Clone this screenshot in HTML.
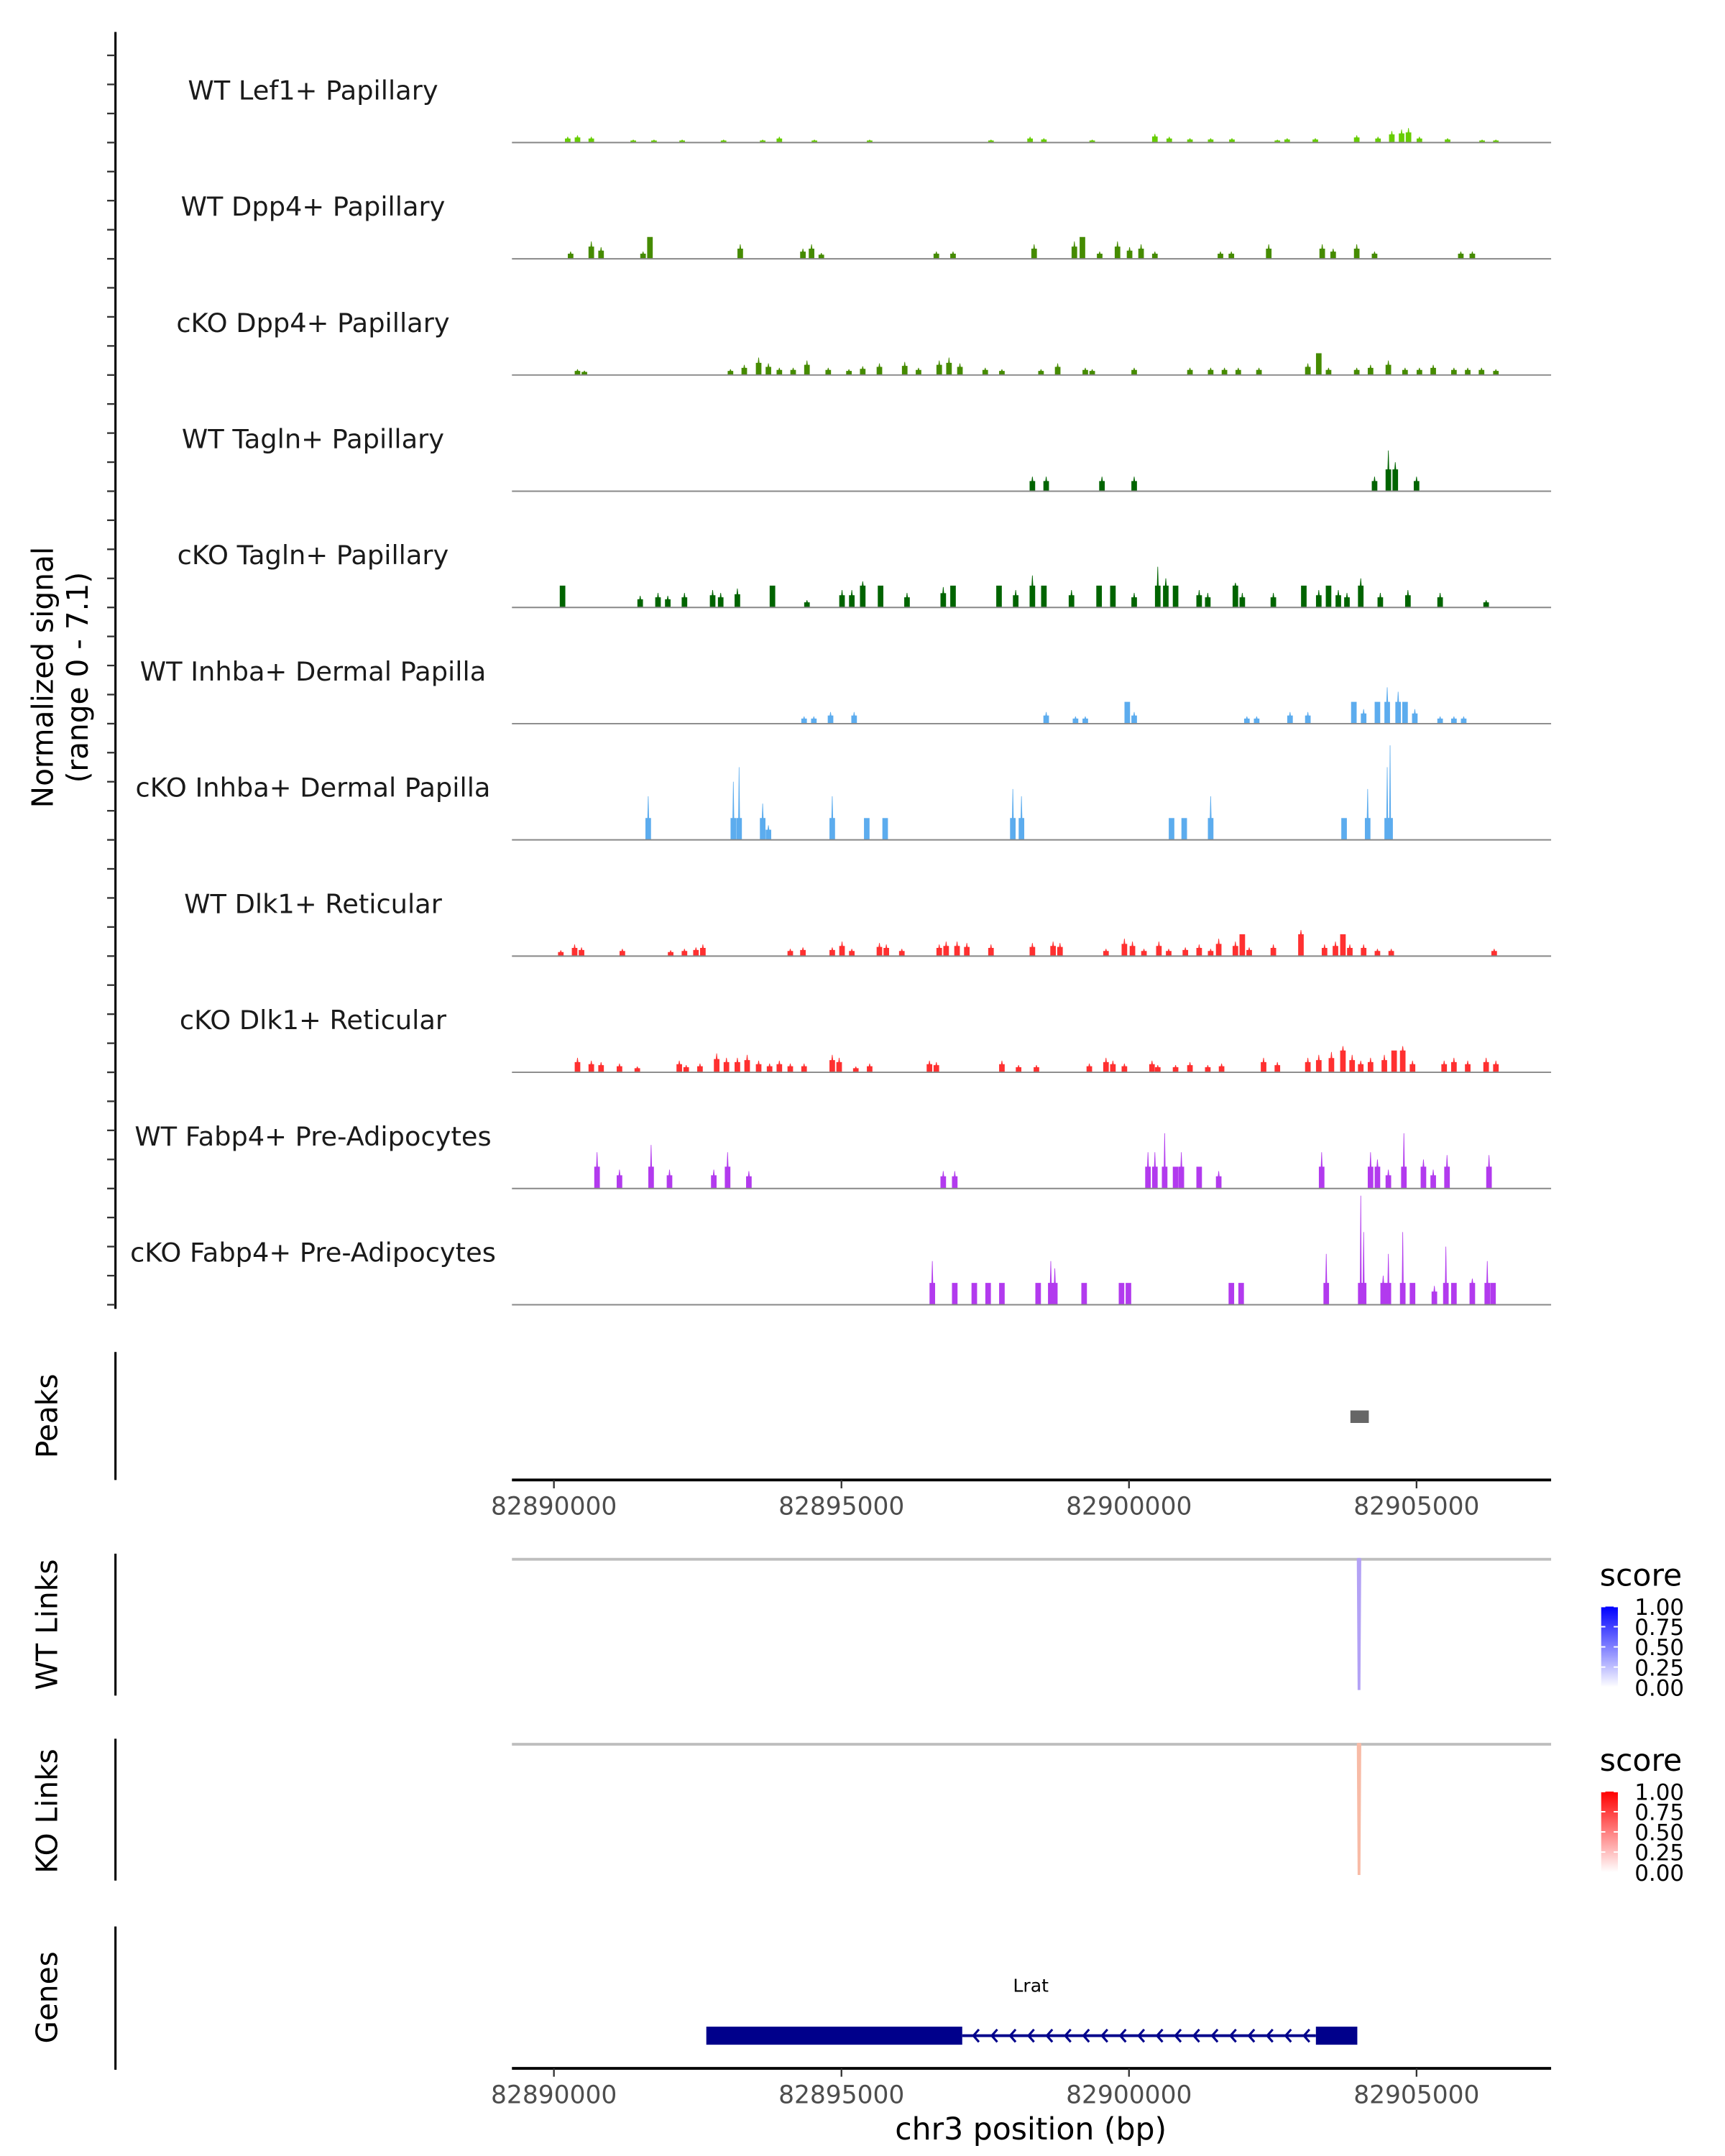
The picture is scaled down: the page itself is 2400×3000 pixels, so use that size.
<!DOCTYPE html>
<html><head><meta charset="utf-8"><style>
html,body{margin:0;padding:0;background:#fff}
svg{display:block}
text{font-family:"DejaVu Sans","Liberation Sans",sans-serif}
</style></head><body>
<svg id="chart" width="2400" height="3000" viewBox="0 0 1240 1550" preserveAspectRatio="none" xmlns="http://www.w3.org/2000/svg">
<g id="tracks"></g>
<g id="axes"></g>
</svg>
<script>
const regionStart = 82889270, regionEnd = 82907340;
const tickValues = [82890000, 82895000, 82900000, 82905000];
const trackNames = ["WT Lef1+ Papillary","WT Dpp4+ Papillary","cKO Dpp4+ Papillary","WT Tagln+ Papillary","cKO Tagln+ Papillary","WT Inhba+ Dermal Papilla","cKO Inhba+ Dermal Papilla","WT Dlk1+ Reticular","cKO Dlk1+ Reticular","WT Fabp4+ Pre-Adipocytes","cKO Fabp4+ Pre-Adipocytes"];
const trackColors = ["#66CD00","#458B00","#458B00","#006400","#006400","#5CACEE","#5CACEE","#FF3030","#FF3030","#B23AEE","#B23AEE"];
// peaks: [offset kb from 82,890,000, signal]
const t1Pos=[0.24,0.41,0.65,1.38,1.74,2.23,2.95,3.63,3.92,4.53,5.49,7.60,8.28,8.52,9.36,10.45,10.70,11.06,11.42,11.79,12.58,12.75,13.24,13.96,14.33,14.57,14.74,14.86,15.05,15.54,16.14,16.38];
const t1Val=[0.4,0.5,0.4,0.2,0.2,0.2,0.2,0.2,0.4,0.2,0.2,0.2,0.4,0.3,0.2,0.6,0.4,0.3,0.3,0.3,0.2,0.3,0.3,0.5,0.4,0.8,0.9,1.0,0.4,0.3,0.2,0.2];
const t2Pos=[0.29,0.65,0.82,1.55,1.67,3.24,4.33,4.48,4.65,6.65,6.94,8.35,9.05,9.19,9.49,9.80,10.01,10.21,10.45,11.59,11.78,12.43,13.36,13.55,13.96,14.27,15.77,15.97];
const t2Val=[0.5,1.2,0.8,0.5,1.5,1.0,0.7,1.0,0.4,0.5,0.5,1.0,1.2,1.5,0.5,1.2,0.8,1.0,0.5,0.5,0.5,1.0,1.0,0.7,1.0,0.5,0.5,0.5];
const t3Pos=[0.41,0.53,3.07,3.31,3.56,3.73,3.92,4.16,4.40,4.77,5.13,5.37,5.66,6.10,6.34,6.70,6.87,7.06,7.50,7.79,8.47,8.76,9.24,9.36,10.09,11.06,11.42,11.66,11.90,12.26,13.11,13.30,13.47,13.96,14.20,14.51,14.80,15.05,15.29,15.65,15.89,16.13,16.38];
const t3Val=[0.4,0.3,0.4,0.7,1.2,0.8,0.5,0.5,1.0,0.5,0.4,0.6,0.8,0.9,0.5,1.0,1.2,0.8,0.5,0.4,0.4,0.8,0.5,0.4,0.5,0.5,0.5,0.5,0.5,0.5,0.8,1.5,0.5,0.5,0.7,1.0,0.5,0.5,0.7,0.5,0.5,0.5,0.4];
const t4Pos=[8.32,8.56,9.53,10.09,14.27,14.51,14.63,15.00];
const t4Val=[1.0,1.0,1.0,1.0,1.0,2.8,2.0,1.0];
const t5Pos=[0.15,1.50,1.81,1.98,2.27,2.76,2.90,3.19,3.80,4.40,5.01,5.18,5.37,5.68,6.14,6.77,6.94,7.74,8.03,8.32,8.52,9.00,9.48,9.72,10.09,10.50,10.64,10.81,11.22,11.37,11.85,11.97,12.51,13.04,13.30,13.47,13.64,13.79,14.03,14.37,14.85,15.41,16.21];
const t5Val=[1.5,0.8,1.0,0.8,1.0,1.2,1.0,1.3,1.5,0.5,1.2,1.2,1.8,1.5,1.0,1.4,1.5,1.5,1.2,2.2,1.5,1.2,1.5,1.5,1.0,2.8,2.0,1.5,1.2,1.0,1.7,1.0,1.0,1.5,1.2,1.5,1.2,1.0,2.0,1.0,1.2,1.0,0.5];
const t6Pos=[4.35,4.52,4.81,5.22,8.56,9.07,9.24,9.97,10.09,12.05,12.22,12.80,13.11,13.91,14.08,14.32,14.49,14.68,14.80,14.97,15.41,15.65,15.82];
const t6Val=[0.5,0.5,0.8,0.8,0.8,0.5,0.5,1.5,0.8,0.5,0.5,0.8,0.8,1.5,1.0,1.5,2.5,2.2,1.5,1.0,0.5,0.5,0.5];
const t7Pos=[1.64,3.12,3.22,3.63,3.73,4.84,5.44,5.76,7.98,8.13,10.74,10.96,11.42,13.74,14.15,14.49,14.54];
const t7Val=[3.0,4.0,5.0,2.5,1.0,3.0,1.5,1.5,3.5,3.0,1.5,1.5,3.0,1.5,3.5,5.0,6.5];
const t8Pos=[0.12,0.36,0.48,1.19,2.03,2.27,2.47,2.59,4.11,4.33,4.84,5.01,5.18,5.66,5.78,6.05,6.70,6.82,7.01,7.18,7.60,8.32,8.68,8.80,9.60,9.92,10.06,10.26,10.52,10.69,10.98,11.22,11.42,11.56,11.85,11.97,12.09,12.51,12.99,13.40,13.59,13.72,13.84,14.08,14.32,14.56,16.35];
const t8Val=[0.4,0.8,0.6,0.5,0.4,0.5,0.6,0.8,0.5,0.6,0.6,1.0,0.5,0.9,0.8,0.5,0.8,1.0,1.0,0.9,0.8,0.9,1.0,0.9,0.5,1.2,1.0,0.5,1.0,0.5,0.6,0.8,0.5,1.2,1.0,1.5,0.6,0.8,1.8,0.8,1.0,1.5,0.8,0.8,0.5,0.5,0.5];
const t9Pos=[0.41,0.65,0.82,1.14,1.45,2.18,2.30,2.54,2.83,3.00,3.19,3.36,3.56,3.75,3.92,4.11,4.35,4.84,4.96,5.25,5.49,6.53,6.65,7.79,8.08,8.39,9.31,9.60,9.72,9.92,10.40,10.50,10.81,11.06,11.37,11.61,12.34,12.58,13.11,13.30,13.52,13.72,13.88,14.03,14.20,14.44,14.61,14.76,14.93,15.48,15.65,15.89,16.21,16.38];
const t9Val=[1.0,0.8,0.7,0.6,0.4,0.8,0.5,0.6,1.3,1.0,1.0,1.2,0.8,0.6,0.8,0.6,0.6,1.2,1.0,0.4,0.6,0.8,0.7,0.8,0.5,0.5,0.6,1.0,0.8,0.6,0.8,0.5,0.5,0.7,0.5,0.6,1.0,0.7,1.0,1.2,1.4,1.8,1.2,0.8,1.0,1.2,1.5,1.8,0.8,0.8,1.0,0.8,1.0,0.8];
const t10Pos=[0.75,1.14,1.69,2.01,2.78,3.02,3.39,6.77,6.97,10.33,10.45,10.62,10.81,10.91,11.22,11.56,13.35,14.20,14.32,14.51,14.78,15.12,15.29,15.53,16.26];
const t10Val=[2.5,1.3,3.0,1.3,1.3,2.5,1.2,1.2,1.2,2.5,2.5,3.8,1.5,2.5,1.5,1.2,2.5,2.5,2.0,1.3,3.8,2.0,1.3,2.3,2.3];
const t11Pos=[6.58,6.97,7.31,7.55,7.79,8.42,8.64,8.71,9.22,9.87,9.99,11.78,11.95,13.43,14.03,14.08,14.42,14.51,14.76,14.93,15.31,15.51,15.65,15.97,16.23,16.33];
const t11Val=[3.0,1.5,1.5,1.5,1.5,1.5,3.0,2.5,1.5,1.5,1.5,1.5,1.5,3.5,7.5,5.0,2.0,3.5,5.0,1.5,1.3,4.0,1.5,1.8,3.0,1.5];
const trackPos=[t1Pos,t2Pos,t3Pos,t4Pos,t5Pos,t6Pos,t7Pos,t8Pos,t9Pos,t10Pos,t11Pos];
const trackVal=[t1Val,t2Val,t3Val,t4Val,t5Val,t6Val,t7Val,t8Val,t9Val,t10Val,t11Val];
const peakStart = 82903850, peakEnd = 82904170;
const linkPos = 82904000, wtLinkScore = 0.35, koLinkScore = 0.35;
const geneStart = 82892650, geneEnd = 82903970, cdsLeftEnd = 82897100, cdsRightStart = 82903250;

const NS="http://www.w3.org/2000/svg";
const X0=368, X1=1115;
function xs(bp){return X0+(bp-regionStart)/(regionEnd-regionStart)*(X1-X0);}
function xo(kb){return xs(82890000+kb*1000);}
const PXU=10.45, BASE0=102.5, STEP=83.55;
function ys(i,v){return BASE0+i*STEP-v*PXU;}
function mk(tag,attrs,parent,txt){const e=document.createElementNS(NS,tag);for(const k in attrs)e.setAttribute(k,attrs[k]);if(txt!==undefined)e.textContent=txt;parent.appendChild(e);return e;}
const T=document.getElementById('tracks'), A=document.getElementById('axes');

let ax=mk('line',{x1:83,y1:23,x2:83,y2:941,stroke:'#000','stroke-width':1.6},A);


for(let i=0;i<11;i++){for(let k=0;k<4;k++){const y=ys(i,k*2);
 const tk=mk('line',{x1:77,y1:y,x2:83,y2:y,stroke:'#333','stroke-width':1.2},A);
 
 }}
let yt=mk('text',{x:0,y:0,'font-size':21,'text-anchor':'middle',fill:'#000',transform:'translate(42,487) rotate(-90)'},A);


mk('tspan',{x:0,dy:-4},yt,'Normalized signal');mk('tspan',{x:0,dy:25},yt,'(range 0 - 7.1)');

for(let i=0;i<11;i++){
 const g=mk('g',{},T);
 
 
 const lb=mk('text',{x:225,y:ys(i,0)-31,'font-size':19,'text-anchor':'middle',fill:'#1a1a1a'},g,trackNames[i]);
 
 
 const pos=trackPos[i],val=trackVal[i];
 for(let j=0;j<pos.length;j++){
  const cx=xo(pos[j]), b=ys(i,0), v=val[j], blk=v>1.4?1.5:v*0.7;
  const pts=[[cx-2,b],[cx-2,ys(i,blk)],[cx-0.6,ys(i,blk)],[cx-0.2,ys(i,v)],[cx+0.2,ys(i,v)],[cx+0.6,ys(i,blk)],[cx+2,ys(i,blk)],[cx+2,b]];
  const p=mk('polygon',{points:pts.map(q=>q.join(',')).join(' '),fill:trackColors[i]},g);
  
  
 }
 const bl=mk('line',{x1:X0,y1:ys(i,0),x2:X1,y2:ys(i,0),stroke:'#888','stroke-width':1},g);
 
 
}

function leftLine(y1,y2,name,title,ty){
 const l=mk('line',{x1:83,y1:y1,x2:83,y2:y2,stroke:'#000','stroke-width':1.6},A);
 
 
 const t=mk('text',{x:0,y:0,'font-size':21,'text-anchor':'middle',fill:'#000',transform:'translate(41,'+ty+') rotate(-90)'},A,title);
 
 
}
function xAxis(y,name){
 const l=mk('line',{x1:X0,y1:y,x2:X1,y2:y,stroke:'#000','stroke-width':2},A);
 
 
 for(const t of tickValues){
  const tk=mk('line',{x1:xs(t),y1:y,x2:xs(t),y2:y+6,stroke:'#333','stroke-width':1.2},A);
  
  
  const tl=mk('text',{x:xs(t),y:y+25,'font-size':17.8,'text-anchor':'middle',fill:'#4d4d4d'},A,String(t));
  
  
 }
}
leftLine(972,1064,'peaks-axis','Peaks',1018);
let pr=mk('rect',{x:xs(peakStart),y:1014,width:xs(peakEnd)-xs(peakStart),height:9,fill:'#666'},A);


xAxis(1064,'peaks-x-axis');

function linkPanel(top,name,title,ty,col,scoreColor,score,gradId){
 leftLine(top-4,top+98,name+'-axis',title,ty);
 const gl=mk('line',{x1:X0,y1:top,x2:X1,y2:top,stroke:'#bebebe','stroke-width':2},A);
 
 
 const lk=mk('path',{d:'M'+(xs(linkPos)-0.6)+','+top+' L'+xs(linkPos)+','+(top+94)+' L'+(xs(linkPos)+0.6)+','+top,fill:'none',stroke:scoreColor,'stroke-width':2,'stroke-linecap':'round'},A);
 
 
 const defs=mk('defs',{},A);const gr=mk('linearGradient',{id:gradId,x1:0,y1:1,x2:0,y2:0},defs);
 mk('stop',{offset:0,'stop-color':'#fff'},gr);mk('stop',{offset:1,'stop-color':col},gr);
 const st=mk('text',{x:1150,y:top+19,'font-size':22,fill:'#000'},A,'score');
 
 
 const cb=mk('rect',{x:1151,y:top+34,width:12,height:58,fill:'url(#'+gradId+')'},A);
 
 
 ['1.00','0.75','0.50','0.25','0.00'].forEach((s,k)=>{
  const yy=top+34+k*14.5;
  const tt=mk('text',{x:1175,y:yy+6,'font-size':16,fill:'#000'},A,s);
  
  
  mk('line',{x1:1151,y1:yy,x2:1154,y2:yy,stroke:'#fff'},A);mk('line',{x1:1160,y1:yy,x2:1163,y2:yy,stroke:'#fff'},A);
 });
}
linkPanel(1121,'wt-links','WT Links',1168,'#0000ff','#b3a2f5',wtLinkScore,'gb');
linkPanel(1254,'ko-links','KO Links',1302,'#ff0000','#f8bba6',koLinkScore,'gr');

leftLine(1385,1488,'genes-axis','Genes',1436);
let gn=mk('text',{x:741,y:1432,'font-size':13,'text-anchor':'middle',fill:'#000'},A,'Lrat');


let intr=mk('line',{x1:xs(cdsLeftEnd),y1:1463.5,x2:xs(cdsRightStart),y2:1463.5,stroke:'#00008B','stroke-width':2},A);


for(let x=xs(cdsLeftEnd)+8;x<xs(cdsRightStart)-4;x+=13.2){
 const ch=mk('path',{d:'M'+(x+4)+',1459 L'+x+',1463.5 L'+(x+4)+',1468',fill:'none',stroke:'#00008B','stroke-width':1.6},A);
 
 
}
let e1=mk('rect',{x:xs(geneStart),y:1457,width:xs(cdsLeftEnd)-xs(geneStart),height:13,fill:'#00008B'},A);


let e2=mk('rect',{x:xs(cdsRightStart),y:1457,width:xs(geneEnd)-xs(cdsRightStart),height:13,fill:'#00008B'},A);


xAxis(1487,'genes-x-axis');
let xt=mk('text',{x:741,y:1538,'font-size':22,'text-anchor':'middle',fill:'#000'},A,'chr3 position (bp)');


</script>
</body></html>
